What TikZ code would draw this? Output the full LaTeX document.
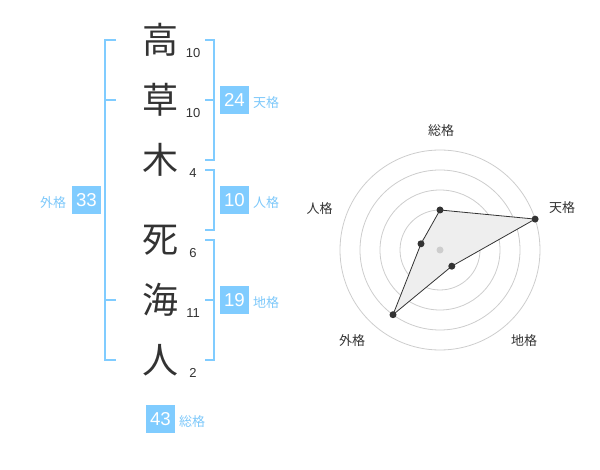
\documentclass[tikz,border=0pt]{standalone}
\usepackage{fontspec}
\setmainfont{Liberation Sans}
\newfontfamily\jp{Noto Sans CJK JP}
\definecolor{kblue}{RGB}{128,204,255}
\definecolor{ltxt}{RGB}{125,200,250}
\definecolor{ink}{RGB}{51,51,51}
\definecolor{ringc}{RGB}{205,205,205}
\definecolor{polyfill}{RGB}{238,238,238}
\begin{document}
\begin{tikzpicture}[x=0.75pt,y=-0.75pt,
 kanji/.style={font=\jp\fontsize{27}{27}\selectfont, text=ink, inner sep=0},
 strokes/.style={font=\fontsize{9.75}{10}\selectfont, text=ink, inner sep=0},
 valbox/.style={fill=kblue, text=white, font=\fontsize{14}{14}\selectfont, minimum width=21.75pt, minimum height=21pt, inner sep=0},
 vlabel/.style={font=\jp\fontsize{9.75}{10}\selectfont, text=ltxt, inner sep=0},
 brk/.style={draw=kblue, line width=1.5pt, line join=miter},
 ring/.style={draw=ringc, line width=0.6pt},
 rlabel/.style={font=\jp\fontsize{9.75}{10}\selectfont, text=ink, inner sep=0},
 dot/.style={circle, fill=ink, inner sep=0, minimum size=5.25pt},
]
\useasboundingbox (0,0) rectangle (600,470);

% name characters
\node[kanji] (k1) at (160,40) {高};
\node[kanji] (k2) at (160,100) {草};
\node[kanji] (k3) at (160,160) {木};
\node[kanji] (k4) at (160,240) {死};
\node[kanji] (k5) at (160,300) {海};
\node[kanji] (k6) at (160,360) {人};

% stroke counts
\node[strokes] (s1) at (193,53) {10};
\node[strokes] (s2) at (193,113) {10};
\node[strokes] (s3) at (193,173) {4};
\node[strokes] (s4) at (193,253) {6};
\node[strokes] (s5) at (193,313) {11};
\node[strokes] (s6) at (193,373) {2};

% brackets
\draw[brk] (116,40) -- (105,40) -- (105,360) -- (116,360);
\draw[brk] (105,100) -- (116,100);
\draw[brk] (105,300) -- (116,300);

\draw[brk] (205,40) -- (214,40) -- (214,160) -- (205,160);
\draw[brk] (205,100) -- (214,100);
\draw[brk] (205,170) -- (214,170) -- (214,230) -- (205,230);
\draw[brk] (205,240) -- (214,240) -- (214,360) -- (205,360);
\draw[brk] (205,300) -- (214,300);

% value boxes
\node[valbox] (gai) at (86.5,200) {33};
\node[vlabel] (gail) at (53,202.5) {外格};
\node[valbox] (ten) at (234.5,100) {24};
\node[vlabel] (tenl) at (266,103) {天格};
\node[valbox] (jin) at (234.5,200) {10};
\node[vlabel] (jinl) at (266,203) {人格};
\node[valbox] (chi) at (234.5,300) {19};
\node[vlabel] (chil) at (266,303) {地格};
\node[valbox] (sou) at (160.5,419) {43};
\node[vlabel] (soul) at (192,422) {総格};

% radar chart
\coordinate (c) at (440,250);
\foreach \r in {15,30,45,60,75} \draw[ring] (c) circle[radius=\r pt];
\coordinate (p1) at (440,210);
\coordinate (p2) at (535.1,219.1);
\coordinate (p3) at (451.8,266.2);
\coordinate (p4) at (393.0,314.7);
\coordinate (p5) at (421.0,243.8);
\draw[fill=polyfill, draw=ink, line width=0.6pt] (p1) -- (p2) -- (p3) -- (p4) -- (p5) -- cycle;
\node[circle, fill=ringc, inner sep=0, minimum size=5.25pt] (cd) at (c) {};
\foreach \p in {p1,p2,p3,p4,p5} \node[dot] at (\p) {};

\node[rlabel] (r1) at (441,131) {総格};
\node[rlabel] (r2) at (562,208) {天格};
\node[rlabel] (r3) at (524,341) {地格};
\node[rlabel] (r4) at (352,341) {外格};
\node[rlabel] (r5) at (319.5,209) {人格};
\end{tikzpicture}
\end{document}
